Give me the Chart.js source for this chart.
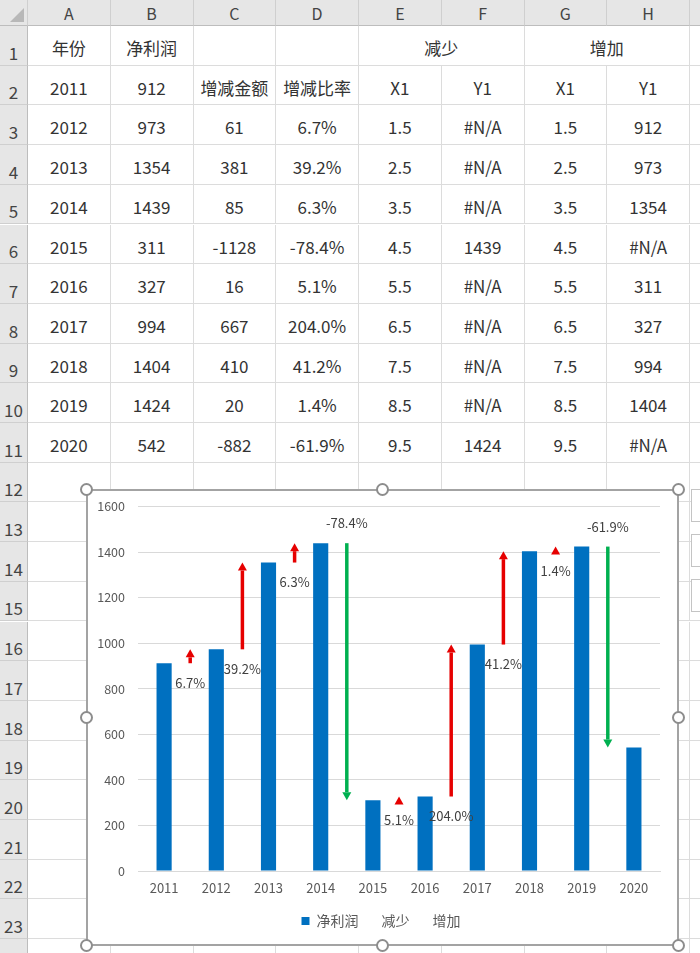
<!DOCTYPE html>
<html>
<head>
<meta charset="utf-8">
<script src="https://cdn.jsdelivr.net/npm/chart.js@4.4.0/dist/chart.umd.min.js"></script>
<style>
  html, body { margin: 0; padding: 0; background: #fff; }
  #sheet { position: relative; width: 700px; height: 953px; overflow: hidden; background: #fff;
           font-family: 'Noto Sans CJK SC', 'Noto Sans', sans-serif; color: #333; }
  .colhead, .rowhead { position: absolute; background: #e6e6e6; color: #444; box-sizing: border-box; }
  .colhead { border-right: 1px solid #cfcfcf; border-bottom: 1px solid #bdbdbd; text-align: center;
             font-size: 16px; line-height: 26px; }
  .rowhead { border-bottom: 1px solid #cfcfcf; border-right: 1px solid #bdbdbd; font-size: 17px;
             text-align: center; }
  .rowhead span { position: absolute; left: 0; right: 0; bottom: 0px; }
  .cell { position: absolute; box-sizing: border-box; border-right: 1px solid #dcdcdc;
          border-bottom: 1px solid #dcdcdc; text-align: center; font-size: 17px; }
  #chartbox { position: absolute; left: 86px; top: 489px; width: 593px; height: 457px;
              box-sizing: border-box; border: 2px solid #a3a3a3; background: #fff; }
  #chartbox canvas { position: absolute; left: 0; top: -5px; }
  .handle { position: absolute; width: 13px; height: 13px; box-sizing: border-box; border-radius: 50%;
            border: 2px solid #8d8d8d; background: #fff; }
  .btn { position: absolute; left: 691px; width: 20px; height: 33px; box-sizing: border-box;
         border: 1px solid #c4c4c4; background: #fff; }
</style>
</head>
<body>
<div id="sheet">
  <div id="chartbox"><canvas id="myChart" width="589" height="458"></canvas></div>
</div>
<script>
// 表格数据
const years = ['2011', '2012', '2013', '2014', '2015', '2016', '2017', '2018', '2019', '2020'];
const netProfit = [912, 973, 1354, 1439, 311, 327, 994, 1404, 1424, 542];
const changeAmount = [null, 61, 381, 85, -1128, 16, 667, 410, 20, -882];
const changeRate = [null, '6.7%', '39.2%', '6.3%', '-78.4%', '5.1%', '204.0%', '41.2%', '1.4%', '-61.9%'];
// 减少 / 增加 (X1, Y1) , 2012 - 2020
const decX1 = [1.5, 2.5, 3.5, 4.5, 5.5, 6.5, 7.5, 8.5, 9.5];
const decY1 = [null, null, null, 1439, null, null, null, null, 1424];
const incX1 = [1.5, 2.5, 3.5, 4.5, 5.5, 6.5, 7.5, 8.5, 9.5];
const incY1 = [912, 973, 1354, null, 311, 327, 994, 1404, null];
const yTicks = [0, 200, 400, 600, 800, 1000, 1200, 1400, 1600];

// ---- 画表格 ----
const sheet = document.getElementById('sheet');
const colLetters = ['A', 'B', 'C', 'D', 'E', 'F', 'G', 'H', 'I'];
const colW = 82.75, rowH = 39.7, headH = 26, headW = 28;

function addDiv(cls, x, y, w, h, html) {
    const d = document.createElement('div');
    d.className = cls;
    d.style.left = x + 'px'; d.style.top = y + 'px';
    d.style.width = w + 'px'; d.style.height = h + 'px';
    if (html !== undefined) d.innerHTML = html;
    sheet.insertBefore(d, document.getElementById('chartbox'));
    return d;
}

const na = v => (v === null ? '#N/A' : String(v));
const grid = [
    ['年份', '净利润', '', '', '减少', null, '增加', null],
    ['2011', '912', '增减金额', '增减比率', 'X1', 'Y1', 'X1', 'Y1']
];
for (let i = 1; i < years.length; i++) {
    grid.push([years[i], String(netProfit[i]), String(changeAmount[i]), changeRate[i],
        String(decX1[i - 1]), na(decY1[i - 1]), String(incX1[i - 1]), na(incY1[i - 1])]);
}

// corner
const corner = addDiv('colhead', 0, 0, headW, headH, '');
corner.innerHTML = '<svg width="28" height="26" style="position:absolute;left:0;top:0"><polygon points="24,8 24,22 10,22" fill="#b8b8b8"/></svg>';
colLetters.forEach((c, i) => addDiv('colhead', headW + i * colW, 0, colW, headH, c));

for (let r = 0; r < 24; r++) {
    const y = headH + r * rowH;
    addDiv('rowhead', 0, y, headW, rowH, '<span>' + (r + 1) + '</span>');
    for (let c = 0; c < 9; c++) {
        const row = grid[r];
        let txt = row ? row[c] : '';
        if (txt === null) continue;
        let w = colW;
        if (row && r === 0 && (c === 4 || c === 6)) w = colW * 2;
        if (txt === undefined) txt = '';
        const d = addDiv('cell', headW + c * colW, y, w, rowH, txt);
        d.style.lineHeight = (rowH + 4) + 'px';
    }
}

// handles and side buttons
const hx = [86, 382, 678.5], hy = [489, 717, 945];
hx.forEach((x, i) => hy.forEach((y, j) => {
    if (i === 1 && j === 1) return;
    const h = document.createElement('div');
    h.className = 'handle';
    h.style.left = (x - 6.5) + 'px'; h.style.top = (y - 6.5) + 'px';
    sheet.appendChild(h);
}));
[489, 534, 579].forEach(y => {
    const b = document.createElement('div');
    b.className = 'btn';
    b.style.top = y + 'px';
    sheet.appendChild(b);
});

// ---- 图表 ----
Chart.defaults.font.family = "'Noto Sans CJK SC', 'Noto Sans', sans-serif";
Chart.defaults.color = '#595959';

const RED = '#e60000', GREEN = '#00b050';

// 箭头 (误差线) 和百分比标签
const arrowPlugin = {
    id: 'arrows',
    afterLayout(chart) {
        // 图例在整个图表框里居中
        chart.legend.left += 7;
        chart.legend.right += 7;
    },
    afterDatasetsDraw(chart) {
        const ctx = chart.ctx;
        const xs = chart.scales.x, ys = chart.scales.y;
        chart.data.datasets.forEach(ds => {
            if (!ds.arrowColor) return;
            ds.data.forEach((p, i) => {
                if (p.y === null) return;
                const target = netProfit[i + 1];
                const px = xs.getPixelForValue(p.x);
                const p1 = ys.getPixelForValue(p.y);
                const p2 = ys.getPixelForValue(target);
                const dir = p2 < p1 ? -1 : 1;
                const headL = 8, headW = 4.5;
                ctx.save();
                ctx.strokeStyle = ds.arrowColor;
                ctx.fillStyle = ds.arrowColor;
                ctx.lineWidth = 3.5;
                const shaftEnd = p2 - dir * headL;
                if ((shaftEnd - p1) * dir > 0) {
                    ctx.beginPath();
                    ctx.moveTo(px, p1);
                    ctx.lineTo(px, shaftEnd);
                    ctx.stroke();
                }
                ctx.beginPath();
                ctx.moveTo(px, p2);
                ctx.lineTo(px - headW, p2 - dir * headL);
                ctx.lineTo(px + headW, p2 - dir * headL);
                ctx.closePath();
                ctx.fill();
                // label
                ctx.fillStyle = '#404040';
                ctx.font = "13px 'Noto Sans CJK SC', 'Noto Sans', sans-serif";
                ctx.textAlign = 'center';
                ctx.textBaseline = 'middle';
                ctx.fillText(changeRate[i + 1], px, p1 + ds.labelOffset);
                ctx.restore();
            });
        });
    }
};

const config = {
    type: 'bar',
    data: {
        datasets: [{
            type: 'bar',
            label: '净利润',
            data: netProfit.map((v, i) => ({ x: i + 1, y: v })),
            backgroundColor: '#0070c0',
            barPercentage: 0.29,
            categoryPercentage: 1
        }, {
            type: 'line',
            label: '减少',
            data: decX1.map((x, i) => ({ x: x, y: decY1[i] })),
            showLine: false,
            pointRadius: 0,
            arrowColor: GREEN,
            labelOffset: -20
        }, {
            type: 'line',
            label: '增加',
            data: incX1.map((x, i) => ({ x: x, y: incY1[i] })),
            showLine: false,
            pointRadius: 0,
            arrowColor: RED,
            labelOffset: 20
        }]
    },
    options: {
        responsive: false,
        animation: false,
        layout: { padding: { left: 0, right: 17, top: 6, bottom: 6 } },
        plugins: {
            tooltip: { enabled: false },
            legend: {
                position: 'bottom',
                labels: {
                    boxWidth: 8,
                    boxHeight: 8,
                    padding: 8,
                    color: '#595959',
                    font: { size: 14 },
                    generateLabels(chart) {
                        const items = Chart.defaults.plugins.legend.labels.generateLabels(chart);
                        items.forEach(it => {
                            it.lineWidth = 0;
                            if (it.datasetIndex > 0) {
                                it.fillStyle = 'rgba(0,0,0,0)';
                                it.strokeStyle = 'rgba(0,0,0,0)';
                            }
                        });
                        return items;
                    }
                }
            }
        },
        scales: {
            x: {
                type: 'linear',
                offset: false,
                min: 0.5,
                max: 10.5,
                afterBuildTicks(scale) { scale.ticks = years.map((y, i) => ({ value: i + 1 })); },
                grid: { display: false, drawTicks: false },
                border: { display: true, color: '#d9d9d9' },
                ticks: {
                    padding: 9,
                    font: { size: 13 },
                    color: '#595959',
                    callback: (v) => years[v - 1]
                },
                afterFit(scale) { scale.height = 35; }
            },
            y: {
                min: yTicks[0],
                max: yTicks[yTicks.length - 1],
                afterBuildTicks(scale) { scale.ticks = yTicks.map(v => ({ value: v })); },
                grid: { color: '#d9d9d9', drawTicks: false },
                border: { display: false },
                ticks: { padding: 13, font: { size: 12.5 }, color: '#595959', callback: (v) => String(v) },
                afterFit(scale) { scale.width = 50; }
            }
        }
    },
    plugins: [arrowPlugin]
};

const myChart = new Chart(document.getElementById('myChart'), config);
</script>
</body>
</html>
